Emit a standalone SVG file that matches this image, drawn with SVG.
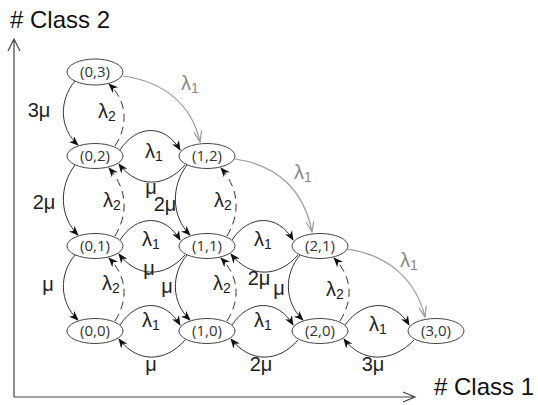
<svg xmlns="http://www.w3.org/2000/svg" width="538" height="405" viewBox="0 0 538 405">
<style>
.node ellipse{fill:#fff;stroke:#444;stroke-width:1}
.node text{font-family:"Open Sans","Liberation Sans",sans-serif;font-size:15px;fill:#333;text-anchor:middle}
.solid{fill:none;stroke:#333;stroke-width:1;marker-end:url(#ah)}
.dash{fill:none;stroke:#333;stroke-width:1;stroke-dasharray:8 5;marker-end:url(#ah)}
.gray{fill:none;stroke:#999;stroke-width:1.2;marker-end:url(#ahg)}
.lbl{font-family:"Liberation Sans",Arial,sans-serif;font-size:20px;fill:#222;text-anchor:middle}
.glbl{font-family:"Liberation Sans",Arial,sans-serif;font-size:20px;fill:#888;text-anchor:middle}
.sub{font-size:14px}
.axis{fill:none;stroke:#444;stroke-width:1.2}
.title{font-family:"Liberation Sans",Arial,sans-serif;font-size:24px;fill:#111}
</style>
<defs>
<marker id="ah" viewBox="0 0 10 8" refX="9" refY="4" markerWidth="10" markerHeight="8" markerUnits="userSpaceOnUse" orient="auto">
<path d="M0,0 L10,4 L0,8 L3,4 z" fill="#111"/>
</marker>
<marker id="ahg" viewBox="0 0 12 8" refX="11" refY="4" markerWidth="12" markerHeight="8" markerUnits="userSpaceOnUse" orient="auto">
<path d="M0,0 L11,4 L0,8" fill="none" stroke="#999" stroke-width="1.2"/>
</marker>
</defs>

<g id="axes">
<path class="axis" d="M14,397 L14,40 M8,51 L14,39 L20,51"/>
<path class="axis" d="M14,397 L415,397 M403,392 L415,397 L403,402"/>
<text class="title" x="10" y="28"># Class 2</text>
<text class="title" x="434" y="395"># Class 1</text>
</g>

<g id="connectors">
<path class="solid" d="M120,150 C137,124 165,124 180,150"/>
<path class="solid" d="M120,240 C137,214 165,214 180,240"/>
<path class="solid" d="M232,240 C249,214 278,214 293,240"/>
<path class="solid" d="M120,325 C137,299 165,299 180,325"/>
<path class="solid" d="M232,325 C249,299 278,299 293,325"/>
<path class="solid" d="M345,325 C364,299 394,299 409,325"/>
<path class="solid" d="M185,165 C165,188 137,188 119,164"/>
<path class="solid" d="M185,255 C165,278 137,278 119,254"/>
<path class="solid" d="M298,255 C278,278 250,278 231,254"/>
<path class="solid" d="M185,340 C165,363 137,363 119,339"/>
<path class="solid" d="M298,340 C278,363 250,363 231,339"/>
<path class="solid" d="M414,340 C392,363 362,363 344,339"/>
<path class="solid" d="M75,81 C59,100 59,128 78,145"/>
<path class="solid" d="M75,165 C59,186 59,216 78,235"/>
<path class="solid" d="M187,165 C171,186 171,216 190,235"/>
<path class="solid" d="M75,255 C59,274 59,302 78,320"/>
<path class="solid" d="M187,255 C171,274 171,302 190,320"/>
<path class="solid" d="M300,255 C284,274 284,302 303,320"/>
<path class="dash" d="M115,146 C128,126 128,102 109,84"/>
<path class="dash" d="M115,236 C128,214 128,190 109,168"/>
<path class="dash" d="M227,236 C240,214 240,190 221,168"/>
<path class="dash" d="M115,321 C128,300 128,278 109,258"/>
<path class="dash" d="M227,321 C240,300 240,278 221,258"/>
<path class="dash" d="M340,321 C353,300 353,278 334,258"/>
<path class="gray" d="M123,76 C165,82 192,105 200,142"/>
<path class="gray" d="M235,159 C277,165 304,190 312,232"/>
<path class="gray" d="M347,249 C389,255 416,280 425,317"/>
</g>

<g id="labels">
<text class="lbl" x="39" y="117">3μ</text>
<text class="lbl" x="107" y="118">λ<tspan class="sub" dy="3">2</tspan></text>
<text class="glbl" x="190" y="90">λ<tspan class="sub" dy="3">1</tspan></text>
<text class="lbl" x="154" y="158">λ<tspan class="sub" dy="3">1</tspan></text>
<text class="lbl" x="151" y="194">μ</text>
<text class="lbl" x="44" y="209">2μ</text>
<text class="lbl" x="112" y="207">λ<tspan class="sub" dy="3">2</tspan></text>
<text class="lbl" x="165" y="211">2μ</text>
<text class="lbl" x="223" y="207">λ<tspan class="sub" dy="3">2</tspan></text>
<text class="glbl" x="303" y="179">λ<tspan class="sub" dy="3">1</tspan></text>
<text class="lbl" x="151" y="246">λ<tspan class="sub" dy="3">1</tspan></text>
<text class="lbl" x="263" y="246">λ<tspan class="sub" dy="3">1</tspan></text>
<text class="lbl" x="149" y="275">μ</text>
<text class="lbl" x="259" y="285">2μ</text>
<text class="lbl" x="48" y="291">μ</text>
<text class="lbl" x="111" y="290">λ<tspan class="sub" dy="3">2</tspan></text>
<text class="lbl" x="167" y="293">μ</text>
<text class="lbl" x="222" y="290">λ<tspan class="sub" dy="3">2</tspan></text>
<text class="lbl" x="279" y="295">μ</text>
<text class="lbl" x="335" y="296">λ<tspan class="sub" dy="3">2</tspan></text>
<text class="glbl" x="409" y="267">λ<tspan class="sub" dy="3">1</tspan></text>
<text class="lbl" x="151" y="327">λ<tspan class="sub" dy="3">1</tspan></text>
<text class="lbl" x="263" y="327">λ<tspan class="sub" dy="3">1</tspan></text>
<text class="lbl" x="378" y="331">λ<tspan class="sub" dy="3">1</tspan></text>
<text class="lbl" x="151" y="371">μ</text>
<text class="lbl" x="261" y="371">2μ</text>
<text class="lbl" x="373" y="371">3μ</text>
</g>

<g id="n03" class="node"><ellipse cx="95" cy="72" rx="28" ry="13"/><text x="95" y="77">(0,3)</text></g>
<g id="n02" class="node"><ellipse cx="95" cy="156" rx="28" ry="12.5"/><text x="95" y="161">(0,2)</text></g>
<g id="n12" class="node"><ellipse cx="207" cy="156" rx="28" ry="12.5"/><text x="207" y="161">(1,2)</text></g>
<g id="n01" class="node"><ellipse cx="95" cy="246" rx="28" ry="12.5"/><text x="95" y="251">(0,1)</text></g>
<g id="n11" class="node"><ellipse cx="207" cy="246" rx="28" ry="12.5"/><text x="207" y="251">(1,1)</text></g>
<g id="n21" class="node"><ellipse cx="320" cy="246" rx="28" ry="12.5"/><text x="320" y="251">(2,1)</text></g>
<g id="n00" class="node"><ellipse cx="95" cy="331" rx="28" ry="12.5"/><text x="95" y="336">(0,0)</text></g>
<g id="n10" class="node"><ellipse cx="207" cy="331" rx="28" ry="12.5"/><text x="207" y="336">(1,0)</text></g>
<g id="n20" class="node"><ellipse cx="320" cy="331" rx="28" ry="12.5"/><text x="320" y="336">(2,0)</text></g>
<g id="n30" class="node"><ellipse cx="436" cy="331" rx="28" ry="12.5"/><text x="436" y="336">(3,0)</text></g>
</svg>
